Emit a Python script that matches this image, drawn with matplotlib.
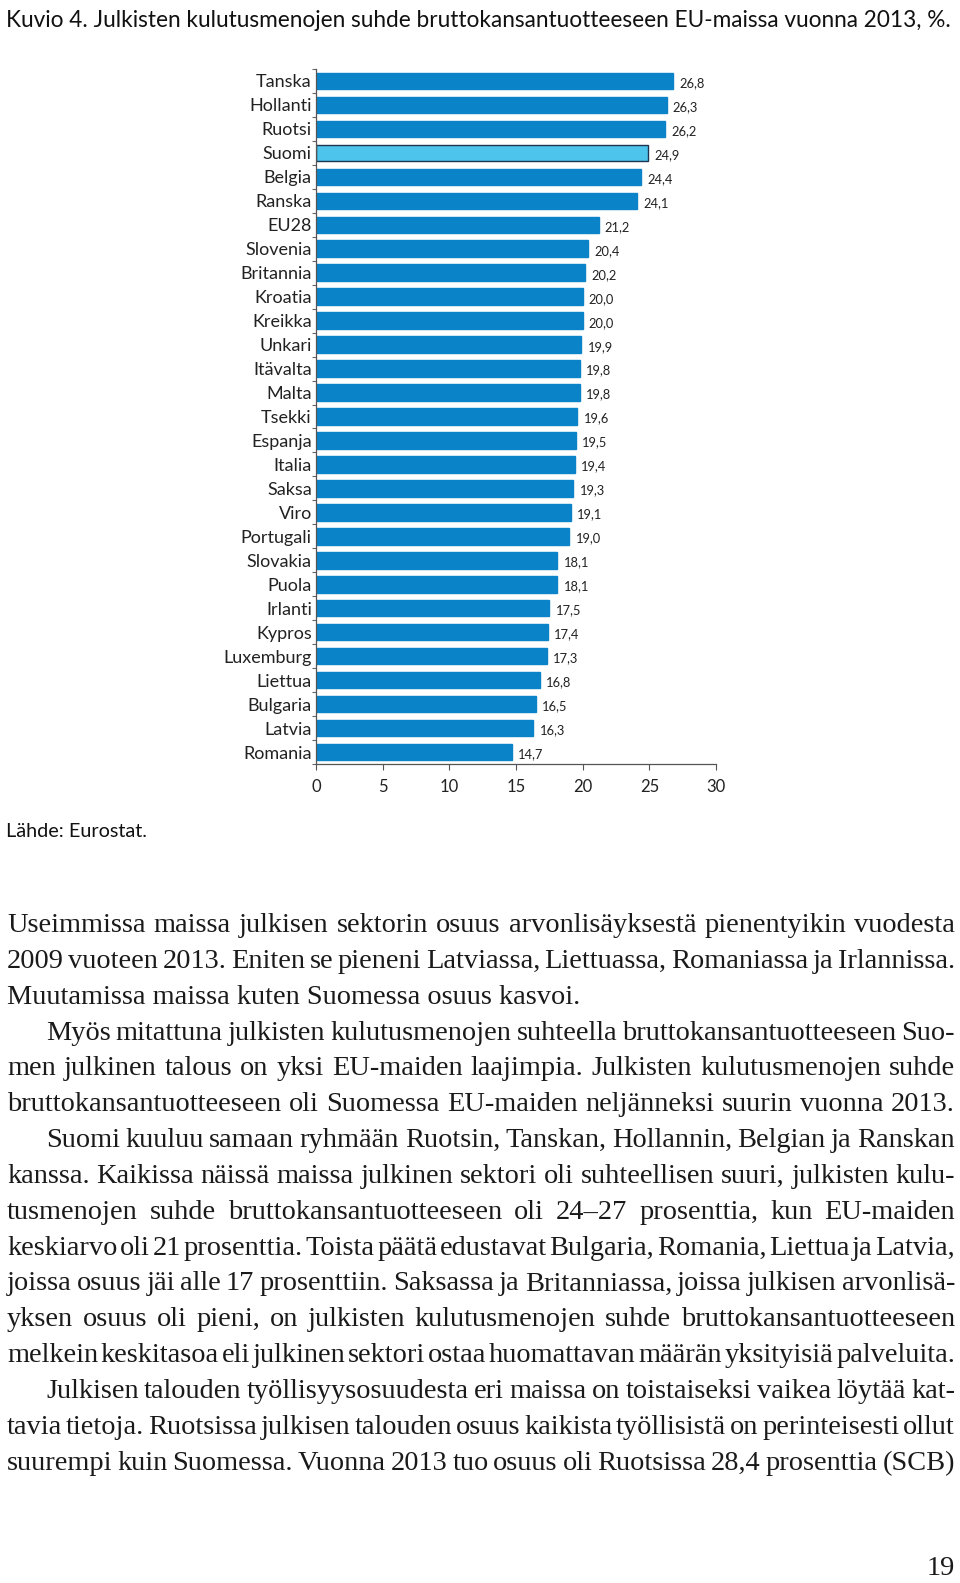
import numpy as np
import matplotlib
matplotlib.use("Agg")
import matplotlib.pyplot as plt

# Chart data (Eurostat 2013, % of GDP)
countries = ["Tanska", "Hollanti", "Ruotsi", "Suomi", "Belgia", "Ranska", "EU28",
             "Slovenia", "Britannia", "Kroatia", "Kreikka", "Unkari", "Itävalta",
             "Malta", "Tsekki", "Espanja", "Italia", "Saksa", "Viro", "Portugali",
             "Slovakia", "Puola", "Irlanti", "Kypros", "Luxemburg", "Liettua",
             "Bulgaria", "Latvia", "Romania"]
values = [26.8, 26.3, 26.2, 24.9, 24.4, 24.1, 21.2, 20.4, 20.2, 20.0, 20.0, 19.9,
          19.8, 19.8, 19.6, 19.5, 19.4, 19.3, 19.1, 19.0, 18.1, 18.1, 17.5, 17.4,
          17.3, 16.8, 16.5, 16.3, 14.7]
xticks = [0, 5, 10, 15, 20, 25, 30]

title = "Kuvio 4. Julkisten kulutusmenojen suhde bruttokansantuotteeseen EU-maissa vuonna 2013, %."
source = "Lähde: Eurostat."

# body text: (line, indented, justified)
body = [
    ("Useimmissa maissa julkisen sektorin osuus arvonlisäyksestä pienentyikin vuodesta", False, True),
    ("2009 vuoteen 2013. Eniten se pieneni Latviassa, Liettuassa, Romaniassa ja Irlannissa.", False, True),
    ("Muutamissa maissa kuten Suomessa osuus kasvoi.", False, False),
    ("Myös mitattuna julkisten kulutusmenojen suhteella bruttokansantuotteeseen Suo-", True, True),
    ("men julkinen talous on yksi EU-maiden laajimpia. Julkisten kulutusmenojen suhde", False, True),
    ("bruttokansantuotteeseen oli Suomessa EU-maiden neljänneksi suurin vuonna 2013.", False, True),
    ("Suomi kuuluu samaan ryhmään Ruotsin, Tanskan, Hollannin, Belgian ja Ranskan", True, True),
    ("kanssa. Kaikissa näissä maissa julkinen sektori oli suhteellisen suuri, julkisten kulu-", False, True),
    ("tusmenojen suhde bruttokansantuotteeseen oli 24–27 prosenttia, kun EU-maiden", False, True),
    ("keskiarvo oli 21 prosenttia. Toista päätä edustavat Bulgaria, Romania, Liettua ja Latvia,", False, True),
    ("joissa osuus jäi alle 17 prosenttiin. Saksassa ja Britanniassa, joissa julkisen arvonlisä-", False, True),
    ("yksen osuus oli pieni, on julkisten kulutusmenojen suhde bruttokansantuotteeseen", False, True),
    ("melkein keskitasoa eli julkinen sektori ostaa huomattavan määrän yksityisiä palveluita.", False, True),
    ("Julkisen talouden työllisyysosuudesta eri maissa on toistaiseksi vaikea löytää kat-", True, True),
    ("tavia tietoja. Ruotsissa julkisen talouden osuus kaikista työllisistä on perinteisesti ollut", False, True),
    ("suurempi kuin Suomessa. Vuonna 2013 tuo osuus oli Ruotsissa 28,4 prosenttia (SCB)", False, True),
]

W, H = 960, 1583
fig = plt.figure(figsize=(W / 100, H / 100), dpi=100)
fig.patch.set_facecolor("white")
renderer = fig.canvas.get_renderer()

SANS = "Lato"
SERIF = "Liberation Serif"


def px(x, y):
    # pixel coords from top-left -> figure fraction
    return x / W, 1 - y / H


def text_width(s, **kw):
    t = fig.text(0, 0, s, **kw)
    w = t.get_window_extent(renderer).width
    t.remove()
    return w


def fit_size(s, target, family, base=12):
    return base * target / text_width(s, family=family, fontsize=base)


# title and source
ts = fit_size(title, 943, SANS)
fig.text(*px(6, 27), title, family=SANS, fontsize=ts, va="baseline", color="#111")
fig.text(*px(6, 837), source, family=SANS, fontsize=fit_size(source, 141, SANS),
         va="baseline", color="#111")

# bar chart
ax = fig.add_axes([316 / W, 1 - 764 / H, 400 / W, 695 / H])
n = len(countries)
ypos = np.arange(n)
colors = ["#4cc4ec" if c == "Suomi" else "#0a83c9" for c in countries]
edges = ["#1d3550" if c == "Suomi" else "#0a83c9" for c in countries]
ax.barh(ypos, values, height=0.69, color=colors, edgecolor=edges, linewidth=1)
ax.set_ylim(n - 0.5, -0.5)
ax.set_xlim(0, 30)
ax.set_xticks(xticks)
ax.set_xticklabels([str(v) for v in xticks], family=SANS, fontsize=12, color="#222")
ax.set_yticks(ypos)
ax.set_yticklabels(countries, family=SANS, fontsize=13, color="#222")
ax.set_yticks(np.arange(-0.5, n, 1), minor=True)
ax.tick_params(axis="y", which="major", length=0, pad=3)
ax.tick_params(axis="y", which="minor", length=3, color="#666", width=0.8)
ax.tick_params(axis="x", length=4, color="#555", width=0.8, pad=7)
for s in ["top", "right"]:
    ax.spines[s].set_visible(False)
for s in ["left", "bottom"]:
    ax.spines[s].set_color("#555")
    ax.spines[s].set_linewidth(0.9)

for y, v in zip(ypos, values):
    ax.annotate(f"{v:.1f}".replace(".", ","), (v, y), xytext=(4.5, -1.5),
                textcoords="offset points", va="center", ha="left",
                family=SANS, fontsize=9.3, color="#222")

# body text, justified
bs = fit_size(body[2][0], 574, SERIF)
left, right, indent = 7, 955, 46
base0, step = 932, 35.85
for i, (line, ind, just) in enumerate(body):
    yb = base0 + i * step
    x0 = indent if ind else left
    if not just:
        fig.text(*px(x0, yb), line, family=SERIF, fontsize=bs, va="baseline", color="#1a1a1a")
        continue
    words = line.split()
    widths = [text_width(w, family=SERIF, fontsize=bs) for w in words]
    gap = (right - x0 - sum(widths)) / (len(words) - 1)
    x = x0
    for w, wd in zip(words, widths):
        fig.text(*px(x, yb), w, family=SERIF, fontsize=bs, va="baseline", color="#1a1a1a")
        x += wd + gap

fig.text(*px(955, 1575), "19", family=SERIF, fontsize=bs, va="baseline", ha="right", color="#1a1a1a")

fig.savefig("out.png", dpi=100, facecolor="white")
